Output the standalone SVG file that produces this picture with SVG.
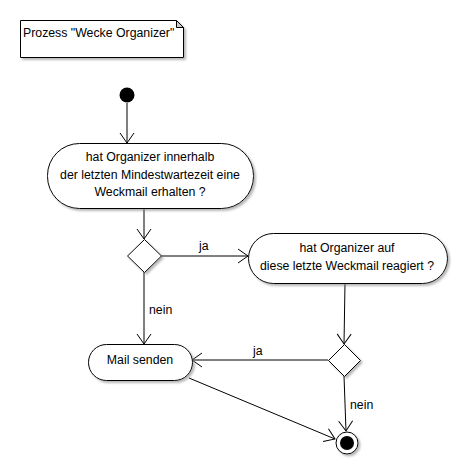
<svg xmlns="http://www.w3.org/2000/svg" width="466" height="476" viewBox="0 0 466 476">
<style>
text{font-family:"Liberation Sans",Arial,sans-serif;font-size:12.3px;fill:#000}
.shape{fill:#fff;stroke:#000;stroke-width:1;filter:url(#sh)}
.c{text-anchor:middle}
.edge{fill:none;stroke:#000;stroke-width:1;marker-end:url(#arr)}
</style>
<defs>
<filter id="sh" x="-10%" y="-10%" width="130%" height="140%">
<feDropShadow dx="2" dy="2" stdDeviation="0.8" flood-color="#888" flood-opacity="0.6"/>
</filter>
<marker id="arr" markerUnits="userSpaceOnUse" markerWidth="14" markerHeight="16" refX="11" refY="8" orient="auto">
<path d="M1,1 L11,8 L1,15" fill="none" stroke="#000" stroke-width="1"/>
</marker>
</defs>
<rect width="466" height="476" fill="#fff"/>
<g id="note">
<path class="shape" d="M20.5,20.5 H176.5 L183.5,27.5 V57.5 H20.5 Z"/>
<path d="M176.5,20.5 V27.5 H183.5 Z" fill="#ccc" stroke="#000"/>
<text x="23" y="37">Prozess "Wecke Organizer"</text>
</g>
<g id="connectors">
<line class="edge" x1="127" y1="103" x2="127" y2="143"/>
<line class="edge" x1="144" y1="208" x2="144" y2="239"/>
<line class="edge" x1="161" y1="256" x2="248" y2="256"/>
<line class="edge" x1="144" y1="272" x2="144" y2="344"/>
<line class="edge" x1="345" y1="283" x2="344" y2="344"/>
<line class="edge" x1="328" y1="360" x2="192" y2="360"/>
<line class="edge" x1="344" y1="376" x2="346" y2="431"/>
<line class="edge" x1="189" y1="378" x2="335" y2="439"/>
<text x="199" y="250">ja</text>
<text x="149" y="314">nein</text>
<text x="253" y="355">ja</text>
<text x="350" y="409">nein</text>
</g>
<g id="start">
<circle cx="127" cy="95" r="7.5" fill="#000"/>
</g>
<g id="act1">
<rect class="shape" x="47.5" y="143.5" width="206" height="65" rx="32" ry="32"/>
<text class="c" x="150" y="161">hat Organizer innerhalb</text>
<text class="c" x="150" y="179">der letzten Mindestwartezeit eine</text>
<text class="c" x="150" y="196">Weckmail erhalten ?</text>
</g>
<g id="dec1">
<path class="shape" d="M144.5,239.5 L161.5,256 L144.5,272.5 L127.5,256 Z"/>
</g>
<g id="act2">
<rect class="shape" x="248.5" y="233.5" width="199" height="50" rx="25" ry="25"/>
<text class="c" x="347" y="252">hat Organizer auf</text>
<text class="c" x="347" y="270">diese letzte Weckmail reagiert ?</text>
</g>
<g id="dec2">
<path class="shape" d="M344.5,344.5 L360.5,360.5 L344.5,376.5 L328.5,360.5 Z"/>
</g>
<g id="mail">
<rect class="shape" x="88.5" y="344.5" width="104" height="36" rx="18" ry="18"/>
<text class="c" x="140" y="364">Mail senden</text>
</g>
<g id="end">
<circle cx="347" cy="443" r="11" fill="#fff" stroke="#000" filter="url(#sh)"/>
<circle cx="347" cy="443" r="7" fill="#000"/>
</g>
</svg>
